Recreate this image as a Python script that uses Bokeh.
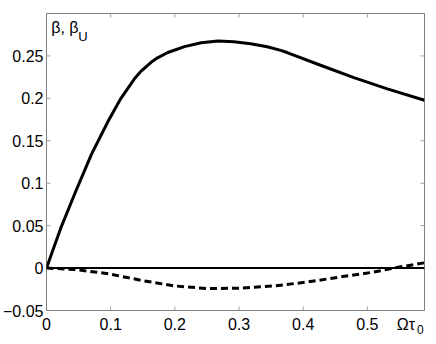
from bokeh.plotting import figure
from bokeh.models import Range1d, LinearAxis, FixedTicker, Span, Label, ColumnDataSource
from bokeh.embed import file_html
from bokeh.resources import INLINE

# data
beta_x = [0, 0.023, 0.044, 0.070, 0.096, 0.116, 0.137, 0.147, 0.163, 0.173, 0.189, 0.215,
          0.241, 0.267, 0.292, 0.318, 0.344, 0.365, 0.375, 0.427, 0.479, 0.531, 0.589]
beta_y = [0, 0.0486, 0.0876, 0.134, 0.173, 0.200, 0.2230, 0.2318, 0.2425, 0.2478, 0.2540,
          0.261, 0.2655, 0.2675, 0.2667, 0.2644, 0.2608, 0.2565, 0.2540, 0.2390, 0.2245,
          0.2112, 0.1978]
betaU_x = [0, 0.044, 0.096, 0.147, 0.199, 0.251, 0.303, 0.355, 0.407, 0.458, 0.510, 0.541, 0.589]
betaU_y = [0, -0.0016, -0.0066, -0.0144, -0.021, -0.0242, -0.0237, -0.021, -0.0164,
           -0.0105, -0.0047, 0.0, 0.0062]

x_ticks = [0, 0.1, 0.2, 0.3, 0.4, 0.5]
x_tick_labels = ["0", "0.1", "0.2", "0.3", "0.4", "0.5"]
x_title = "\u03a9\u03c4"
x_title_pos = 0.560
x_title_sub = "0"
x_title_sub_pos = 0.5827
y_ticks = [-0.05, 0, 0.05, 0.1, 0.15, 0.2, 0.25, 0.3]
y_tick_labels = ["\u22120.05", "0", "0.05", "0.1", "0.15", "0.2", "0.25", ""]

X_RANGE = (0, 0.589)
Y_RANGE = (-0.05, 0.3)

FONT = "Liberation Sans"
AXIS_GRAY = "#808080"
TICK_GRAY = "#a0a0a0"
FRAME_W, FRAME_H = 379, 298   # approx frame size in px, used for tick length
TICK_PX = 4

p = figure(width=428, height=336, output_backend="svg", toolbar_location=None,
           x_range=Range1d(*X_RANGE), y_range=Range1d(*Y_RANGE),
           x_axis_location=None, y_axis_location=None,
           min_border_left=45, min_border_right=4, min_border_top=13, min_border_bottom=25)
p.grid.visible = False
p.outline_line_color = AXIS_GRAY
p.outline_line_width = 1
p.background_fill_color = "white"
p.border_fill_color = "white"


def label_axis(ticks, labels, size="16px"):
    ax = LinearAxis(ticker=FixedTicker(ticks=ticks),
                    major_label_overrides={t: l for t, l in zip(ticks, labels)})
    ax.axis_line_color = None
    ax.major_tick_line_color = None
    ax.major_tick_in = 0
    ax.major_tick_out = 0
    ax.minor_tick_line_color = None
    ax.major_label_text_font = FONT
    ax.major_label_text_color = "black"
    ax.major_label_text_font_size = size
    return ax


bottom = label_axis(x_ticks + [x_title_pos], x_tick_labels + [x_title])
bottom.major_label_standoff = 5
p.add_layout(bottom, "below")
# subscript of the x title, one row lower
sub = label_axis([x_title_sub_pos], [x_title_sub], size="12px")
sub.major_label_standoff = -11
p.add_layout(sub, "below")
left = label_axis(y_ticks, y_tick_labels)
left.major_label_standoff = 3
p.add_layout(left, "left")

# inward tick marks on all four sides of the box
dx = TICK_PX * (X_RANGE[1] - X_RANGE[0]) / FRAME_W
dy = TICK_PX * (Y_RANGE[1] - Y_RANGE[0]) / FRAME_H
inner_y = [t for t in y_ticks if Y_RANGE[0] < t < Y_RANGE[1]]
inner_x = [t for t in x_ticks if X_RANGE[0] < t < X_RANGE[1]]
p.segment(x0=inner_x, x1=inner_x, y0=[Y_RANGE[0]] * len(inner_x),
          y1=[Y_RANGE[0] + dy] * len(inner_x), line_color=TICK_GRAY, line_width=1)
p.segment(x0=inner_x, x1=inner_x, y0=[Y_RANGE[1]] * len(inner_x),
          y1=[Y_RANGE[1] - dy] * len(inner_x), line_color=TICK_GRAY, line_width=1)
p.segment(x0=[X_RANGE[0]] * len(inner_y), x1=[X_RANGE[0] + dx] * len(inner_y),
          y0=inner_y, y1=inner_y, line_color=TICK_GRAY, line_width=1)
p.segment(x0=[X_RANGE[1]] * len(inner_y), x1=[X_RANGE[1] - dx] * len(inner_y),
          y0=inner_y, y1=inner_y, line_color=TICK_GRAY, line_width=1)

p.add_layout(Span(location=0, dimension="width", line_color="black", line_width=2))

src_b = ColumnDataSource(dict(x=beta_x, y=beta_y))
src_u = ColumnDataSource(dict(x=betaU_x, y=betaU_y))
p.line("x", "y", source=src_b, line_color="black", line_width=3, line_join="round")
p.line("x", "y", source=src_u, line_color="black", line_width=3, line_dash="7 4")

# y title placed inside the box as in the reference
p.add_layout(Label(x=0.0073, y=0.274, text="\u03b2, \u03b2", text_font=FONT,
                   text_font_size="16px", text_color="black"))
p.add_layout(Label(x=0.0495, y=0.2644, text="U", text_font=FONT,
                   text_font_size="13px", text_color="black"))

open("out.html", "w").write(file_html(p, INLINE))
